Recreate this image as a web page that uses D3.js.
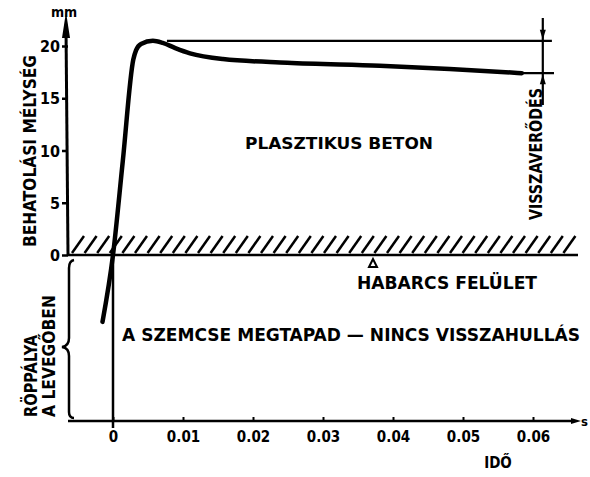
<!DOCTYPE html>
<html>
<head>
<meta charset="utf-8">
<script src="https://cdn.jsdelivr.net/npm/d3@7"></script>
<style>
  body { margin: 0; background: #fff; }
  svg text { font-family: "DejaVu Sans Condensed", "DejaVu Sans", sans-serif; font-weight: bold; fill: #000; }
</style>
</head>
<body>
<svg width="590" height="477"></svg>
<script>
// time (s) and penetration depth (mm)
const timeTicks = [0, 0.01, 0.02, 0.03, 0.04, 0.05, 0.06];
const depthTicks = [0, 5, 10, 15, 20];
const curveTime = [-0.0015, 0, 0.0014, 0.0029, 0.0033, 0.004, 0.0057, 0.0071, 0.0089, 0.011, 0.0157, 0.0249, 0.0381, 0.0481, 0.0584];
const curveDepth = [-6.4, 0, 9.0, 18.7, 19.6, 20.2, 20.5, 20.3, 19.8, 19.3, 18.75, 18.4, 18.1, 17.8, 17.4];
const maxDepth = 20.5;      // peak line
const finalDepth = 17.4;    // after rebound
const reboundTime = 0.0614; // dimension line

const svg = d3.select("svg");
const x = d3.scaleLinear().domain([0, 0.06]).range([113, 533]);
const y = d3.scaleLinear().domain([0, 20]).range([255, 46]);
const axisX0 = 68, baseY = 421;

// hatched mortar surface
const hatch = svg.append("g").attr("stroke", "#000").attr("stroke-width", 2.5);
d3.range(72, 572, 12.6).forEach(px => {
    hatch.append("line").attr("x1", px).attr("y1", y(0) - 2).attr("x2", px + 12).attr("y2", y(0) - 19);
});
svg.append("line").attr("x1", axisX0).attr("x2", 578).attr("y1", y(0)).attr("y2", y(0))
    .attr("stroke", "#000").attr("stroke-width", 2.5);

// y axis
const yAxis = svg.append("g").attr("transform", `translate(${axisX0},0)`)
    .call(d3.axisLeft(y).tickValues(depthTicks).tickSize(6).tickPadding(2).tickFormat(d3.format("d")));
yAxis.select(".domain").remove();
yAxis.selectAll(".tick line").attr("stroke-width", 2.5);
yAxis.selectAll(".tick text").attr("font-size", 16).attr("dy", "0.35em");
svg.append("line").attr("x1", axisX0).attr("x2", axisX0 - 2).attr("y1", y(0)).attr("y2", 28)
    .attr("stroke", "#000").attr("stroke-width", 3);
svg.append("path").attr("d", `M${axisX0 - 6},38 L${axisX0 - 2},12 L${axisX0 + 2},38 Z`).attr("fill", "#000");
svg.append("text").attr("x", 64).attr("y", 17).attr("font-size", 14).attr("text-anchor", "middle").text("mm");

// brace for flight path
svg.append("path")
    .attr("d", "M74,260 Q69,261 69,268 L69,338 Q69,346 62,347 Q69,348 69,356 L69,412 Q69,418 74,418")
    .attr("fill", "none").attr("stroke", "#000").attr("stroke-width", 2.5);

// time axis
const xAxis = svg.append("g").attr("transform", `translate(0,${baseY})`)
    .call(d3.axisBottom(x).tickValues(timeTicks).tickSize(-4).tickPadding(10)
        .tickFormat(d => d === 0 ? "0" : d.toFixed(2)));
xAxis.select(".domain").remove();
xAxis.selectAll(".tick line").attr("stroke-width", 2);
xAxis.selectAll(".tick text").attr("font-size", 15);
svg.append("line").attr("x1", axisX0).attr("x2", 574).attr("y1", baseY).attr("y2", baseY)
    .attr("stroke", "#000").attr("stroke-width", 2.5);
svg.append("path").attr("d", `M571,${baseY - 3} L581,${baseY} L571,${baseY + 3} Z`).attr("fill", "#000");
svg.append("text").attr("x", 581).attr("y", baseY + 5).attr("font-size", 13).text("s");
svg.append("text").attr("x", 498).attr("y", 468).attr("font-size", 15).attr("text-anchor", "middle").text("IDŐ");

// t = 0 vertical
svg.append("line").attr("x1", x(0)).attr("x2", x(0)).attr("y1", y(0)).attr("y2", baseY + 7)
    .attr("stroke", "#000").attr("stroke-width", 2.5);

// rebound dimension
const dim = svg.append("g").attr("stroke", "#000").attr("stroke-width", 2.2);
dim.append("line").attr("x1", x(0.0077)).attr("x2", x(0.0627)).attr("y1", y(maxDepth)).attr("y2", y(maxDepth));
dim.append("line").attr("x1", x(0.0581)).attr("x2", x(0.063)).attr("y1", y(finalDepth)).attr("y2", y(finalDepth));
dim.append("line").attr("x1", x(reboundTime)).attr("x2", x(reboundTime)).attr("y1", 18).attr("y2", 105);
svg.append("path").attr("fill", "#000")
    .attr("d", `M${x(reboundTime) - 3},${y(maxDepth) - 11} L${x(reboundTime)},${y(maxDepth) - 1} L${x(reboundTime) + 3},${y(maxDepth) - 11} Z`);
svg.append("path").attr("fill", "#000")
    .attr("d", `M${x(reboundTime) - 3},${y(finalDepth) + 11} L${x(reboundTime)},${y(finalDepth) + 1} L${x(reboundTime) + 3},${y(finalDepth) + 11} Z`);

// surface marker
svg.append("path").attr("d", "M373,259 L369,267 L377,267 Z").attr("fill", "none").attr("stroke", "#000").attr("stroke-width", 2);

// penetration curve
const pts = curveTime.map((t, i) => [t, curveDepth[i]]);
svg.append("path").datum(pts)
    .attr("d", d3.line().x(d => x(d[0])).y(d => y(d[1])).curve(d3.curveMonotoneX))
    .attr("fill", "none").attr("stroke", "#000").attr("stroke-width", 4.5).attr("stroke-linecap", "round");

// labels
function label(txt, px, py, size, len, rot) {
    const t = svg.append("text").attr("font-size", size).attr("text-anchor", "middle")
        .attr("dominant-baseline", "central").attr("textLength", len).attr("lengthAdjust", "spacingAndGlyphs").text(txt);
    if (rot) t.attr("transform", `translate(${px},${py}) rotate(${rot})`);
    else t.attr("x", px).attr("y", py);
}
label("PLASZTIKUS  BETON", 339, 143, 16, 188);
label("HABARCS FELÜLET", 447, 283, 17, 180);
label("A SZEMCSE  MEGTAPAD — NINCS  VISSZAHULLÁS", 351, 335, 17, 458);
label("BEHATOLÁSI  MÉLYSÉG", 30, 151, 17, 192, -90);
label("VISSZAVERŐDÉS", 536, 154, 17, 132, -90);
label("RÖPPÁLYA", 31, 376, 17, 82, -90);
label("A LEVEGŐBEN", 49, 356, 17, 122, -90);
</script>
</body>
</html>
